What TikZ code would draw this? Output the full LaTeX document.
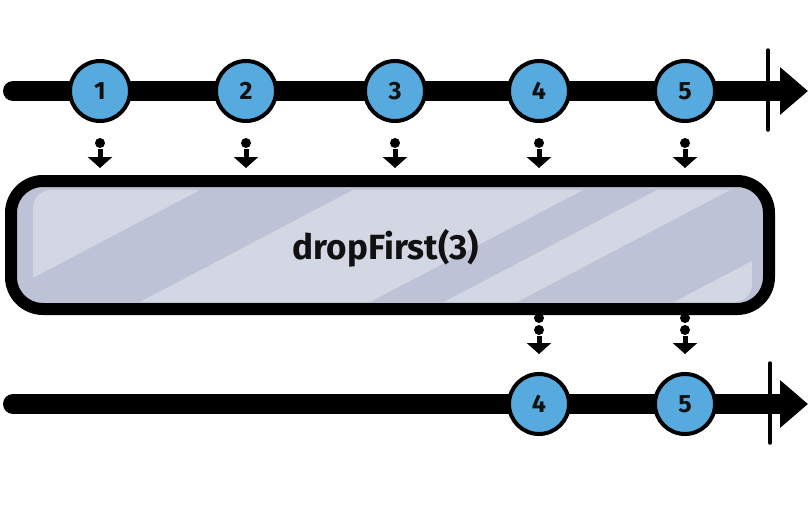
\documentclass[tikz,border=0pt]{standalone}
\usepackage{fontspec}
\setmainfont{Fira Sans}
\usetikzlibrary{positioning, arrows.meta, calc}
\definecolor{cMarble}{HTML}{56AADE}
\definecolor{cOpDark} {HTML}{BDC2D6}
\definecolor{cOpLight}{HTML}{D3D7E4}
\definecolor{cInk}    {HTML}{111111}

\tikzset{
  marble/.style={circle, draw=black, fill=cMarble, line width=4pt,
    minimum size=60pt, inner sep=0pt, text=cInk,
    font=\fontsize{25}{27}\selectfont\bfseries},
  timeline/.style={line width=20pt, line cap=round,
    -{Triangle[length=28pt, width=46pt]}},
  endtick/.style={line width=3.5pt, line cap=round},
  opbox/.style={draw=black, fill=cOpDark, line width=12pt,
    rounded corners=32pt, minimum width=758pt, minimum height=128pt},
  droparrow/.style={line width=5pt, -{Triangle[length=11pt, width=24pt]}},
}

\begin{document}
\begin{tikzpicture}[x=1pt, y=-1pt]
  \useasboundingbox (0,0) rectangle (812,504);
  % Source timeline
  \coordinate (in-start) at (13,91);
  \coordinate (in-end) at (808,91);
  \draw[timeline] (in-start) -- (in-end);
  \draw[endtick] (768,50) -- (768,130);
  \foreach \n/\x in {1/100, 2/246, 3/395, 4/539, 5/685}
    \node[marble] (m\n) at (\x,91) {\n};

  % Operator box (stripes clipped to the inner highlight)
  \node[opbox] (op) at (390,245) {};
  \begin{scope}
    \clip[rounded corners=18pt] (33,190) rectangle (752,302);
    \foreach \a/\b in {-300/200, 353/583, 657/730, 887/960}
      \fill[cOpLight] (\a,190) -- (\b,190) -- (\b-213,302) -- (\a-213,302) -- cycle;
  \end{scope}
  \node[font=\fontsize{35}{40}\selectfont\bfseries, text=cInk] (oplabel) at (386,248) {dropFirst(3)};

  % Marbles flowing into the operator
  \foreach \n in {1,...,5} {
    \fill ($(m\n.south)+(0,20)$) circle (5pt);
    \draw[droparrow] ($(m\n.south)+(0,26)$) -- ($(m\n.south)+(0,45)$);
  }

  % Result timeline
  \coordinate (out-start) at (13,404);
  \coordinate (out-end) at (808,404);
  \draw[timeline] (out-start) -- (out-end);
  \draw[endtick] (770,363) -- (770,443);
  \foreach \n/\x in {4/539, 5/685}
    \node[marble] (o\n) at (\x,404) {\n};

  % Marbles leaving the operator
  \foreach \n in {4,5} {
    \fill ($(o\n |- op.south)+(0,3)$) circle (5pt);
    \fill ($(o\n |- op.south)+(0,15)$) circle (5pt);
    \draw[droparrow] ($(o\n |- op.south)+(0,21)$) -- ($(o\n |- op.south)+(0,39)$);
  }
\end{tikzpicture}
\end{document}
